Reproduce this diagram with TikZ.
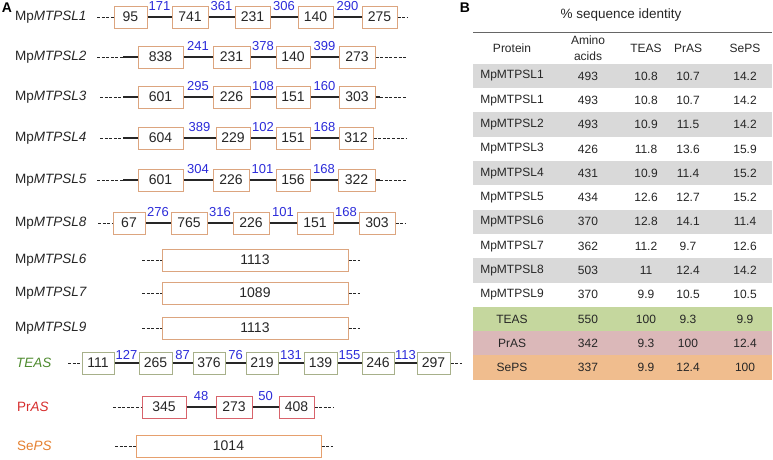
\documentclass[tikz,border=0pt]{standalone}
\usepackage{fontspec}
\setmainfont{Liberation Sans}
\usetikzlibrary{positioning}
\definecolor{exonline}{HTML}{DCA57F}
\definecolor{teasline}{HTML}{A7B08A}
\definecolor{prasline}{HTML}{D8636B}
\definecolor{sepsline}{HTML}{E6A06E}
\definecolor{intronblue}{HTML}{2B2BD9}
\definecolor{teasgreen}{HTML}{4F8B2F}
\definecolor{prasred}{HTML}{D62D2D}
\definecolor{sepsorange}{HTML}{E5802F}
\definecolor{rowgray}{HTML}{D9D9D9}
\definecolor{teasfill}{HTML}{C5D79E}
\definecolor{prasfill}{HTML}{DBB8B9}
\definecolor{sepsfill}{HTML}{F0BD8E}

\tikzset{
  exon/.style={draw=exonline, line width=1pt, fill=white, minimum height=22pt,
    inner sep=0pt, text=black!85, font=\fontsize{14}{15}\selectfont},
  intronline/.style={line width=1.1pt, black!85},
  intron/.style={above=6pt, inner sep=0pt, text=intronblue, font=\fontsize{13}{14}\selectfont},
  lead/.style={line width=0.8pt, black!85, dash pattern=on 3pt off 1.6pt},
  genelabel/.style={anchor=west, inner sep=0pt, text=black!85, font=\fontsize{13.5}{15}\selectfont},
  cell/.style={inner sep=0pt, text=black!85, font=\fontsize{12}{16}\selectfont},
}

\begin{document}
\begin{tikzpicture}[x=1pt, y=-1pt]
  \useasboundingbox (0,0) rectangle (773,459);

  % panel A: gene structures
  \node[font=\bfseries\fontsize{14}{16}\selectfont, inner sep=0pt] (labA) at (7,8) {A};

  % MpMTPSL1
  \node[genelabel] (l1) at (15,17) {Mp\textit{MTPSL1}};
  \foreach \a/\b/\t [count=\i] in {114/147/95,172/208/741,235/270/231,298/333/140,362/397/275}
    \node[exon, minimum width={\b-\a}] (g1e\i) at ({(\a+\b)/2},17) {\t};
  \foreach \i/\j/\n in {1/2/171,2/3/361,3/4/306,4/5/290}
    \draw[intronline] (g1e\i.east) -- node[intron] {\n} (g1e\j.west);
  \coordinate (g1s) at (97,17);
  \coordinate (g1t) at (407,17);
  \draw[lead] (g1s) -- (g1e1.west);
  \draw[lead] (g1e5.east) -- (g1t);

  % MpMTPSL2
  \node[genelabel] (l2) at (15,57) {Mp\textit{MTPSL2}};
  \foreach \a/\b/\t [count=\i] in {138/183/838,213/250/231,276/310/140,339/375/273}
    \node[exon, minimum width={\b-\a}] (g2e\i) at ({(\a+\b)/2},57) {\t};
  \foreach \i/\j/\n in {1/2/241,2/3/378,3/4/399}
    \draw[intronline] (g2e\i.east) -- node[intron] {\n} (g2e\j.west);
  \coordinate (g2s) at (97,57);
  \coordinate (g2m) at (123,57);
  \coordinate (g2t) at (407,57);
  \draw[lead] (g2s) -- (g2m);
  \draw[intronline] (g2m) -- (g2e1.west);
  \draw[lead] (g2e4.east) -- (g2t);

  % MpMTPSL3
  \node[genelabel] (l3) at (15,97) {Mp\textit{MTPSL3}};
  \foreach \a/\b/\t [count=\i] in {138/183/601,213/250/226,276/310/151,339/375/303}
    \node[exon, minimum width={\b-\a}] (g3e\i) at ({(\a+\b)/2},97) {\t};
  \foreach \i/\j/\n in {1/2/295,2/3/108,3/4/160}
    \draw[intronline] (g3e\i.east) -- node[intron] {\n} (g3e\j.west);
  \coordinate (g3s) at (100,97);
  \coordinate (g3m) at (123,97);
  \coordinate (g3n) at (380,97);
  \coordinate (g3t) at (407,97);
  \draw[lead] (g3s) -- (g3m);
  \draw[intronline] (g3m) -- (g3e1.west);
  \draw[intronline] (g3e4.east) -- (g3n);
  \draw[lead] (g3n) -- (g3t);

  % MpMTPSL4
  \node[genelabel] (l4) at (15,138) {Mp\textit{MTPSL4}};
  \foreach \a/\b/\t [count=\i] in {138/183/604,216/250/229,276/310/151,339/373/312}
    \node[exon, minimum width={\b-\a}] (g4e\i) at ({(\a+\b)/2},138) {\t};
  \foreach \i/\j/\n in {1/2/389,2/3/102,3/4/168}
    \draw[intronline] (g4e\i.east) -- node[intron] {\n} (g4e\j.west);
  \coordinate (g4s) at (100,138);
  \coordinate (g4m) at (123,138);
  \coordinate (g4t) at (407,138);
  \draw[lead] (g4s) -- (g4m);
  \draw[intronline] (g4m) -- (g4e1.west);
  \draw[lead] (g4e4.east) -- (g4t);

  % MpMTPSL5
  \node[genelabel] (l5) at (15,180) {Mp\textit{MTPSL5}};
  \foreach \a/\b/\t [count=\i] in {138/183/601,213/249/226,276/310/156,338/375/322}
    \node[exon, minimum width={\b-\a}] (g5e\i) at ({(\a+\b)/2},180) {\t};
  \foreach \i/\j/\n in {1/2/304,2/3/101,3/4/168}
    \draw[intronline] (g5e\i.east) -- node[intron] {\n} (g5e\j.west);
  \coordinate (g5s) at (97,180);
  \coordinate (g5m) at (123,180);
  \coordinate (g5n) at (380,180);
  \coordinate (g5t) at (407,180);
  \draw[lead] (g5s) -- (g5m);
  \draw[intronline] (g5m) -- (g5e1.west);
  \draw[intronline] (g5e4.east) -- (g5n);
  \draw[lead] (g5n) -- (g5t);

  % MpMTPSL8
  \node[genelabel] (l8) at (15,223) {Mp\textit{MTPSL8}};
  \foreach \a/\b/\t [count=\i] in {113/145/67,171/207/765,233/269/226,297/333/151,359/395/303}
    \node[exon, minimum width={\b-\a}] (g8e\i) at ({(\a+\b)/2},223) {\t};
  \foreach \i/\j/\n in {1/2/276,2/3/316,3/4/101,4/5/168}
    \draw[intronline] (g8e\i.east) -- node[intron] {\n} (g8e\j.west);
  \coordinate (g8s) at (98,223);
  \coordinate (g8t) at (405,223);
  \draw[lead] (g8s) -- (g8e1.west);
  \draw[lead] (g8e5.east) -- (g8t);

  % MpMTPSL6, 7, 9: single exon
  \foreach \k/\y/\t in {6/260/1113,7/293/1089,9/328/1113} {
    \node[genelabel] (l\k) at (15,\y) {Mp\textit{MTPSL\k}};
    \node[exon, minimum width=186] (g\k e1) at (255,\y) {\t};
    \coordinate (g\k s) at (142,\y);
    \coordinate (g\k t) at (360,\y);
    \draw[lead] (g\k s) -- (g\k e1.west);
    \draw[lead] (g\k e1.east) -- (g\k t);
  }

  % TEAS
  \node[genelabel, text=teasgreen] (lteas) at (16,363) {\textit{TEAS}};
  \foreach \a/\b/\t [count=\i] in {82/114/111,139/172/265,193/225/376,246/278/219,304/337/139,362/394/246,417/450/297}
    \node[exon, draw=teasline, minimum width={\b-\a}] (gte\i) at ({(\a+\b)/2},363) {\t};
  \foreach \i/\j/\n in {1/2/127,2/3/87,3/4/76,4/5/131,5/6/155,6/7/113}
    \draw[intronline] (gte\i.east) -- node[intron, above=3pt] {\n} (gte\j.west);
  \coordinate (gts) at (68,363);
  \coordinate (gtt) at (462,363);
  \draw[lead] (gts) -- (gte1.west);
  \draw[lead] (gte7.east) -- (gtt);

  % PrAS
  \node[genelabel, text=prasred] (lpras) at (17,407) {Pr\textit{AS}};
  \foreach \a/\b/\t [count=\i] in {142/186/345,216/252/273,279/314/408}
    \node[exon, draw=prasline, minimum width={\b-\a}] (gpe\i) at ({(\a+\b)/2},407) {\t};
  \foreach \i/\j/\n in {1/2/48,2/3/50}
    \draw[intronline] (gpe\i.east) -- node[intron] {\n} (gpe\j.west);
  \coordinate (gps) at (113,407);
  \coordinate (gpt) at (333,407);
  \draw[lead] (gps) -- (gpe1.west);
  \draw[lead] (gpe3.east) -- (gpt);

  % SePS
  \node[genelabel, text=sepsorange] (lseps) at (17,446) {Se\textit{PS}};
  \node[exon, draw=sepsline, minimum width=185] (gse1) at (228.5,446) {1014};
  \coordinate (gss) at (115,446);
  \coordinate (gst) at (333,446);
  \draw[lead] (gss) -- (gse1.west);
  \draw[lead] (gse1.east) -- (gst);

  % panel B: identity table
  \node[font=\bfseries\fontsize{14}{16}\selectfont, inner sep=0pt] (labB) at (465,8) {B};
  \node[cell, font=\fontsize{13.5}{15}\selectfont] (title) at (621,15) {\% sequence identity};
  \coordinate (rulel) at (473,32);
  \coordinate (ruler) at (772,32);
  \draw[black!60, line width=0.8pt] (rulel) -- (ruler);
  \node[cell] (hprot) at (512,48) {Protein};
  \node[cell, align=center] (hamino) at (588,48) {Amino\\acids};
  \node[cell] (hteas) at (646,48) {TEAS};
  \node[cell] (hpras) at (688,48) {PrAS};
  \node[cell] (hseps) at (745,48) {SePS};

  \foreach \p/\aa/\te/\pr/\se/\f [count=\r] in {
      MpMTPSL1/493/10.8/10.7/14.2/rowgray,
      MpMTPSL1/493/10.8/10.7/14.2/white,
      MpMTPSL2/493/10.9/11.5/14.2/rowgray,
      MpMTPSL3/426/11.8/13.6/15.9/white,
      MpMTPSL4/431/10.9/11.4/15.2/rowgray,
      MpMTPSL5/434/12.6/12.7/15.2/white,
      MpMTPSL6/370/12.8/14.1/11.4/rowgray,
      MpMTPSL7/362/11.2/9.7/12.6/white,
      MpMTPSL8/503/11/12.4/14.2/rowgray,
      MpMTPSL9/370/9.9/10.5/10.5/white,
      TEAS/550/100/9.3/9.9/teasfill,
      PrAS/342/9.3/100/12.4/prasfill,
      SePS/337/9.9/12.4/100/sepsfill} {
    \pgfmathsetmacro\yy{76+(\r-1)*24.3}
    \fill[\f] (473,\yy-12.15) rectangle (772,\yy+12.15);
    \node[cell] (tp\r) at (512,\yy) {\p};
    \node[cell] (ta\r) at (588,\yy) {\aa};
    \node[cell] (tt\r) at (646,\yy) {\te};
    \node[cell] (tr\r) at (688,\yy) {\pr};
    \node[cell] (ts\r) at (745,\yy) {\se};
  }
\end{tikzpicture}
\end{document}
